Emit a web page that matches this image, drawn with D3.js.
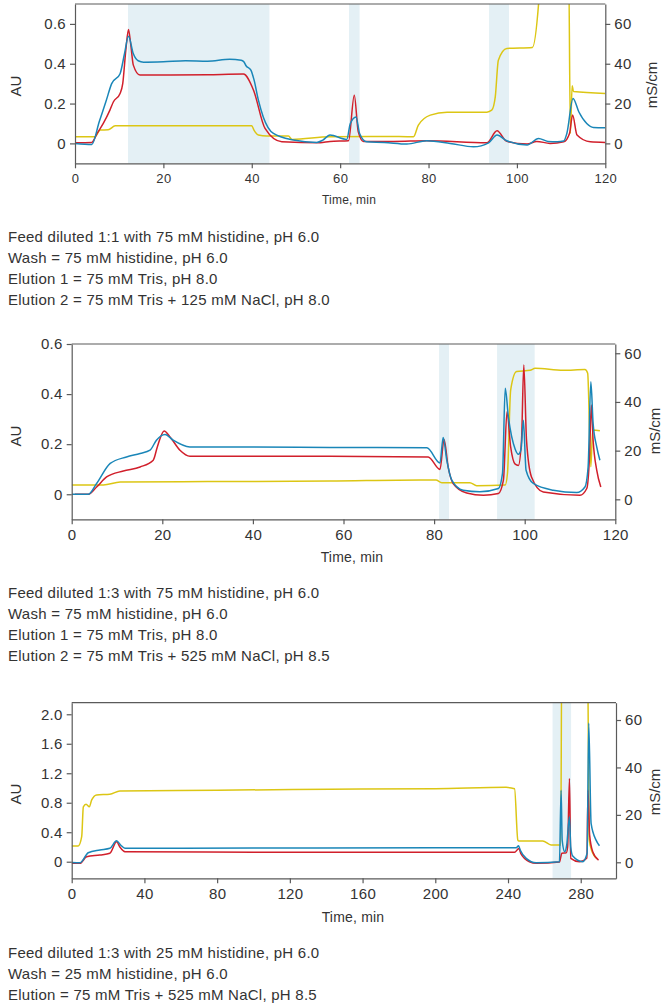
<!DOCTYPE html>
<html><head><meta charset="utf-8">
<script src="https://cdn.jsdelivr.net/npm/d3@7"></script>
<style>
html,body{margin:0;padding:0;background:#fff;}
svg{display:block;font-family:"Liberation Sans",Arial,Helvetica,sans-serif;}
</style></head>
<body>
<script>
// ---------- DATA ----------
// Panel 1 (time min, AU / mS/cm)
const p1Blue = [[0,0],[3.8,-0.005],[5.5,0.11],[7,0.21],[8.3,0.30],[10.2,0.35],[11.2,0.45],[12.1,0.538],[13.2,0.45],[14.3,0.415],[15.5,0.408],[20,0.41],[25,0.415],[30,0.413],[35,0.422],[37.6,0.418],[38.2,0.41],[38.7,0.39],[39.8,0.368],[40.5,0.32],[41.5,0.217],[42.6,0.133],[44.9,0.05],[49.4,0.017],[54.7,0.005],[56,0.015],[57.7,0.042],[61.5,0.02],[62.3,0.1],[63.6,0.133],[64.4,0.05],[66,0.008],[70,0.005],[75.1,-0.003],[79.6,0.013],[84.9,0.0],[90.2,-0.017],[93.6,0.003],[95.5,0.042],[97.7,0.013],[102.3,-0.008],[104.9,0.025],[107,0.01],[109.1,0.008],[110.6,0.012],[111.3,0.05],[112.7,0.226],[114.0,0.159],[115.8,0.1],[117.3,0.08],[120,0.078]];
const p1Red = [[0,0.003],[3.8,0.005],[5,0.05],[6.4,0.10],[7.9,0.167],[8.7,0.209],[10.2,0.251],[10.8,0.30],[11.5,0.468],[12.1,0.572],[12.6,0.50],[13.2,0.393],[14.7,0.343],[20,0.343],[30,0.345],[38.1,0.348],[40.4,0.267],[43.0,0.075],[46.8,0.008],[55.5,0.003],[57.7,0.01],[61.9,0.013],[63.2,0.242],[64.1,0.058],[65.3,0.01],[72.1,0.01],[79.6,0.013],[93.2,0.003],[95.5,0.063],[97.7,0.01],[102.3,-0.003],[104.5,0.01],[107.5,0.0],[110.6,0.008],[111.9,0.05],[112.6,0.142],[113.6,0.042],[116.6,0.008],[120,0.005]];
const p1Cond = [[0,3.3],[4.5,3.3],[5.7,6.7],[7.5,6.8],[9.1,8.8],[20,8.8],[40,8.8],[40.5,6.7],[41.5,4.2],[43.4,3.7],[48.3,3.7],[49.1,2.0],[57.7,3.3],[70,3.5],[76.6,3.3],[77.7,9.2],[80.4,14.2],[84.2,15.7],[93.2,15.7],[94.3,16.7],[95.1,23.4],[95.8,41.8],[97.7,47.7],[103.5,48.2],[104.9,70],[105.5,90],[111.7,90],[112.1,5],[112.5,29],[112.8,26],[120,25.1]];
const p1Shade = [[12,44],[62,64.4],[93.7,98.2]];
const p1Text = ["Feed diluted 1:1 with 75 mM histidine, pH 6.0","Wash = 75 mM histidine, pH 6.0","Elution 1 = 75 mM Tris, pH 8.0","Elution 2 = 75 mM Tris + 125 mM NaCl, pH 8.0"];

// Panel 2
const p2Blue = [[0,0],[3.7,0],[5.5,0.043],[8.5,0.123],[12.1,0.149],[15.1,0.163],[17.3,0.176],[18.7,0.216],[20.6,0.239],[22.4,0.216],[26.1,0.189],[40,0.189],[57,0.187],[78.4,0.186],[81.3,0.125],[82.0,0.227],[82.8,0.136],[83.9,0.056],[86.4,0.016],[90.1,0.01],[94.2,0.023],[95.1,0.083],[95.7,0.423],[96.4,0.309],[97.9,0.18],[98.6,0.16],[99.2,0.18],[99.7,0.296],[100.3,0.096],[101.9,0.043],[106.3,0.016],[111.5,0.007],[113.3,0.029],[114.0,0.109],[114.6,0.449],[115.1,0.283],[115.9,0.189],[116.6,0.136]];
const p2Red = [[0.7,0],[3.7,0],[5.5,0.029],[7.7,0.069],[11.4,0.093],[15.1,0.109],[18.0,0.136],[18.9,0.189],[20.4,0.253],[21.7,0.229],[23.9,0.176],[26.1,0.152],[40,0.152],[57,0.152],[78.7,0.149],[81.3,0.099],[82.2,0.219],[83.1,0.109],[84.2,0.043],[87.2,0.005],[90.9,-0.004],[94.2,0.003],[95.3,0.056],[96.1,0.329],[96.9,0.189],[97.9,0.12],[98.6,0.115],[99.3,0.216],[99.8,0.516],[100.4,0.216],[101.5,0.069],[104.1,0.009],[112.2,-0.004],[113.7,0.023],[114.3,0.149],[114.7,0.356],[115.1,0.216],[115.9,0.096],[116.8,0.029]];
const p2Cond = [[0,5.9],[7.0,5.9],[10.7,7.1],[30,7.3],[57,7.5],[76.9,7.9],[80.4,7.9],[81.7,6.8],[87.9,6.8],[89.4,5.6],[95.7,5.9],[96.2,10.7],[96.9,44.9],[98.2,52.5],[101.2,53],[102.3,53.8],[108.5,53],[113.3,53.3],[113.9,51.8],[114.6,13.4],[115.0,28.5],[116.6,28.2]];
const p2Shade = [[81.1,83.3],[93.9,102.2]];
const p2Text = ["Feed diluted 1:3 with 75 mM histidine, pH 6.0","Wash = 75 mM histidine, pH 6.0","Elution 1 = 75 mM Tris, pH 8.0","Elution 2 = 75 mM Tris + 525 mM NaCl, pH 8.5"];

// Panel 3
const p3Blue = [[0,-0.01],[4.6,-0.014],[9.1,0.122],[15.5,0.159],[21.0,0.182],[24.7,0.285],[26.9,0.227],[29.3,0.182],[100,0.185],[200,0.19],[244.5,0.19],[245.8,0.217],[246.7,0.159],[250,0.046],[255.5,-0.014],[268.3,0],[269.2,0.97],[269.8,0.29],[271.2,0.136],[272.3,0.227],[273.8,0.61],[274.5,0.2],[275.6,0.077],[281.1,0],[283.5,0.114],[284.4,1.88],[285.7,0.52],[288.5,0.29],[290.3,0.217]];
const p3Red = [[0,-0.022],[4.6,-0.022],[8.2,0.068],[15.5,0.091],[21.0,0.114],[24.7,0.27],[26.5,0.2],[29.3,0.136],[100,0.13],[243.6,0.128],[246.0,0.18],[247,0.114],[251.8,0],[255.5,-0.022],[268.3,-0.005],[269.6,0.114],[272.0,0.12],[272.8,0.2],[273.8,1.13],[274.5,0.046],[279.3,0],[283.4,0.05],[284.0,0.97],[284.9,0.36],[286.6,0.136],[289.8,0.023]];
const p3Cond = [[0,6.9],[3.6,6.9],[5.5,10.8],[6.4,23.4],[7.9,24.5],[9.7,23.4],[11.0,26.3],[13.7,28.4],[21.0,28.7],[26.5,30.1],[80,30.4],[142,30.8],[200,31.0],[239,31.6],[243.6,31],[245.4,9.4],[246,9.0],[259.1,9.0],[263.7,7.3],[269.0,7.3],[269.6,90],[283.8,90],[284.6,10],[286,5],[289,1.5]];
const p3Shade = [[264.5,274.7]];
const p3Text = ["Feed diluted 1:3 with 25 mM histidine, pH 6.0","Wash = 25 mM histidine, pH 6.0","Elution = 75 mM Tris + 525 mM NaCl, pH 8.5"];

// Tick values
const p1XTicks = [0,20,40,60,80,100,120];
const p1LTicks = [0,0.2,0.4,0.6];
const p1RTicks = [0,20,40,60];
const p2XTicks = [0,20,40,60,80,100,120];
const p2LTicks = [0,0.2,0.4,0.6];
const p2RTicks = [0,20,40,60];
const p3XTicks = [0,40,80,120,160,200,240,280];
const p3LTicks = [0,0.4,0.8,1.2,1.6,2.0];
const p3RTicks = [0,20,40,60];

// ---------- DRAW ----------
const COL = {blue:"#1a86b8", red:"#d11f2b", yellow:"#dcc614", shade:"#e4f0f5", axis:"#5a5a5a", text:"#333"};
const svg = d3.select("body").append("svg").attr("width",663).attr("height",1005);

function panel(o){
  const x = d3.scaleLinear().domain(o.xd).range([o.x0,o.x1]);
  const yL = d3.scaleLinear().domain(o.yLd).range([o.y1,o.y0]);
  const yR = d3.scaleLinear().domain(o.yRd).range([o.y1,o.y0]);
  const g = svg.append("g");
  const cid = "clip"+o.id;
  svg.append("clipPath").attr("id",cid).append("rect")
    .attr("x",o.x0).attr("y",o.y0).attr("width",o.x1-o.x0).attr("height",o.y1-o.y0);
  g.selectAll("rect.sh").data(o.shade).enter().append("rect")
    .attr("x",d=>x(d[0])).attr("width",d=>x(d[1])-x(d[0]))
    .attr("y",o.y0).attr("height",o.y1-o.y0).attr("fill",COL.shade);
  const lg = g.append("g").attr("clip-path",`url(#${cid})`);
  const lineL = d3.line().x(d=>x(d[0])).y(d=>yL(d[1])).curve(d3.curveMonotoneX);
  const lineR = d3.line().x(d=>x(d[0])).y(d=>yR(d[1])).curve(d3.curveMonotoneX);
  lg.append("path").attr("d",lineR(o.cond)).attr("fill","none").attr("stroke",COL.yellow).attr("stroke-width",1.5);
  lg.append("path").attr("d",lineL(o.red)).attr("fill","none").attr("stroke",COL.red).attr("stroke-width",1.5);
  lg.append("path").attr("d",lineL(o.blue)).attr("fill","none").attr("stroke",COL.blue).attr("stroke-width",1.5);
  // top border
  g.append("line").attr("x1",o.x0).attr("x2",o.x1).attr("y1",o.y0).attr("y2",o.y0)
    .attr("stroke",COL.axis).attr("stroke-width",1.2);
  const style = (sel,fs)=>{
    sel.select(".domain").attr("stroke",COL.axis).attr("stroke-width",1.2);
    sel.selectAll(".tick line").attr("stroke",COL.axis).attr("stroke-width",1.2);
    sel.selectAll(".tick text").attr("fill",COL.text).attr("font-size",fs)
      .attr("letter-spacing",0.3)
      .attr("font-family","'Liberation Sans',Arial,sans-serif");
  };
  const fmtL = o.fmtL;
  const ax = g.append("g").attr("transform",`translate(0,${o.y1})`)
    .call(d3.axisBottom(x).tickValues(o.xt).tickSize(5).tickSizeOuter(0).tickPadding(o.xpad).tickFormat(d3.format("d")));
  style(ax,o.xfs);
  const al = g.append("g").attr("transform",`translate(${o.x0},0)`)
    .call(d3.axisLeft(yL).tickValues(o.lt).tickSize(5).tickSizeOuter(0).tickPadding(4).tickFormat(fmtL));
  style(al,o.lfs);
  const ar = g.append("g").attr("transform",`translate(${o.x1},0)`)
    .call(d3.axisRight(yR).tickValues(o.rt).tickSize(5).tickSizeOuter(0).tickPadding(4).tickFormat(d3.format("d")));
  style(ar,o.lfs);
  // axis titles
  g.append("text").attr("x",o.tx).attr("y",o.ty).attr("text-anchor","middle")
    .attr("font-size",o.tfs).attr("letter-spacing",0.2).attr("fill",COL.text).text("Time, min");
  g.append("text").attr("transform",`translate(${o.aux},${o.auy}) rotate(-90)`).attr("text-anchor","middle")
    .attr("font-size",15).attr("fill",COL.text).text("AU");
  g.append("text").attr("transform",`translate(${o.msx},${o.msy}) rotate(-90)`).attr("text-anchor","middle")
    .attr("font-size",15).attr("fill",COL.text).text("mS/cm");
  // description
  g.selectAll("text.desc").data(o.text).enter().append("text")
    .attr("x",8).attr("y",(d,i)=>o.textY+i*21).attr("font-size",15).attr("letter-spacing",0.25)
    .attr("fill",COL.text).text(d=>d);
}

const fmt1 = d => d===0 ? "0" : d3.format(".1f")(d);

panel({id:1,x0:75,x1:605.3,y0:4,y1:163.3,xd:[0,120],yLd:[-0.1,0.7],yRd:[-10,70],
  blue:p1Blue,red:p1Red,cond:p1Cond,shade:p1Shade,text:p1Text,
  xt:p1XTicks,lt:p1LTicks,rt:p1RTicks,fmtL:fmt1,xfs:13,lfs:15,xpad:5,
  tx:349,ty:204,tfs:12,aux:21,auy:86,msx:657,msy:85,textY:242});

panel({id:2,x0:71.7,x1:615.3,y0:344,y1:519.3,xd:[0,120],yLd:[-0.1,0.6],yRd:[-8.2,63.8],
  blue:p2Blue,red:p2Red,cond:p2Cond,shade:p2Shade,text:p2Text,
  xt:p2XTicks,lt:p2LTicks,rt:p2RTicks,fmtL:fmt1,xfs:15,lfs:15,xpad:5,
  tx:352,ty:562,tfs:14,aux:20.5,auy:436,msx:660,msy:431,textY:598});

panel({id:3,x0:71.7,x1:616,y0:702.7,y1:878.3,xd:[0,299.4],yLd:[-0.225,2.157],yRd:[-6.75,67.3],
  blue:p3Blue,red:p3Red,cond:p3Cond,shade:p3Shade,text:p3Text,
  xt:p3XTicks,lt:p3LTicks,rt:p3RTicks,fmtL:fmt1,xfs:15,lfs:15,xpad:5,
  tx:353,ty:922,tfs:14,aux:20.5,auy:794,msx:660,msy:792,textY:958});
</script>
</body></html>
